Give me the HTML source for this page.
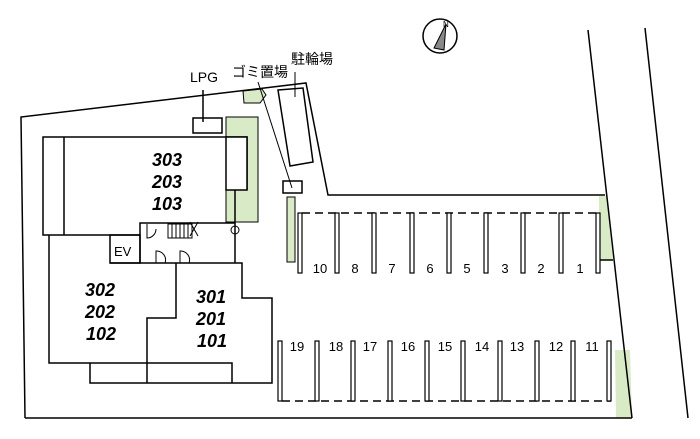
<!DOCTYPE html>
<html><head><meta charset="utf-8"><style>
html,body{margin:0;padding:0;background:#fff;}
svg{display:block}
text{font-family:"Liberation Sans","Noto Sans CJK JP",sans-serif;fill:#000}
.b{font-weight:bold;font-style:italic;font-size:18px}
.n{font-size:13px}
</style></head><body>
<svg width="700" height="439" viewBox="0 0 700 439" xmlns="http://www.w3.org/2000/svg">
<g fill="#d8ebc6" stroke="none">
<rect x="226" y="117" width="32" height="105"/>
<rect x="287" y="197" width="8" height="65"/>
<polygon points="599,196 606,196 613,260 599,260"/>
<polygon points="615,350 630,350 632,418 616,418"/>
<polygon points="243,91 262,89 266,95 260,103 244,103"/>
</g>
<g fill="none" stroke="#000" stroke-width="1.5">
<polyline points="25,418 632,418"/>
<polyline points="25,418 21,117 306,83 328,195 605,195"/>
<line x1="588" y1="30" x2="632" y2="418"/>
<line x1="645" y1="28" x2="688" y2="418"/>
<rect x="226" y="117" width="32" height="105" stroke-width="1"/>
<rect x="287" y="197" width="8" height="65" stroke-width="1"/>
<!-- building 303 -->
<polyline points="140,235 43,235 43,137 247,137 247,190"/>
<line x1="64" y1="137" x2="64" y2="235"/>
<rect x="226" y="137" width="21" height="53" fill="#fff"/>
<polyline points="140,263 140,223 235,223"/>
<line x1="235" y1="190" x2="235" y2="263"/>
<rect x="193" y="118" width="29" height="15"/>
<line x1="203" y1="90" x2="203" y2="122"/>
<!-- EV and 302 -->
<rect x="110" y="235" width="30" height="28"/>
<polyline points="49,235 49,363 232,363 232,383"/>
<polyline points="90,363 90,383 272,383 272,298 242,298 242,263 110,263"/>
<polyline points="176,263 176,318 147,318 147,383"/>
<!-- doors -->
<path d="M147,224 v14 a9,9 0 0 0 9,-9" stroke-width="1"/>
<path d="M156,263 v-12 a9,9 0 0 1 9,12" stroke-width="1"/>
<path d="M180,263 v-12 a9,9 0 0 1 9,12" stroke-width="1"/>
<g stroke-width="1"><rect x="168" y="224" width="24" height="14"/>
<line x1="172" y1="224" x2="172" y2="238"/><line x1="176" y1="224" x2="176" y2="238"/><line x1="180" y1="224" x2="180" y2="238"/><line x1="184" y1="224" x2="184" y2="238"/><line x1="188" y1="224" x2="188" y2="238"/>
<line x1="190" y1="222" x2="198" y2="236"/><line x1="198" y1="222" x2="190" y2="236"/>
<circle cx="235" cy="230" r="4"/></g>
<!-- top items -->
<polygon points="278,90 303,88 313,162 290,166"/>
<rect x="283" y="181" width="19" height="12"/>
<line x1="258" y1="82" x2="292" y2="188" stroke-width="1"/>
<line x1="295" y1="72" x2="295" y2="97" stroke-width="1"/>
<polygon points="243,91 262,89 266,95 260,103 244,103" stroke-width="1"/>
<line x1="600" y1="260" x2="613" y2="260"/>
<!-- parking -->
<line x1="302" y1="213" x2="598" y2="213" stroke-dasharray="8,5"/>
<line x1="282" y1="401" x2="611" y2="401" stroke-dasharray="8,5"/>
</g>
<g fill="#fff" stroke="#000" stroke-width="1.2">
<rect x="298" y="213" width="4" height="60"/><rect x="335" y="213" width="4" height="60"/><rect x="372" y="213" width="4" height="60"/><rect x="410" y="213" width="4" height="60"/><rect x="447" y="213" width="4" height="60"/><rect x="484" y="213" width="4" height="60"/><rect x="521" y="213" width="4" height="60"/><rect x="559" y="213" width="4" height="60"/><rect x="596" y="213" width="4" height="60"/>
<rect x="278" y="341" width="4" height="60"/><rect x="315" y="341" width="4" height="60"/><rect x="351" y="341" width="4" height="60"/><rect x="388" y="341" width="4" height="60"/><rect x="425" y="341" width="4" height="60"/><rect x="461" y="341" width="4" height="60"/><rect x="498" y="341" width="4" height="60"/><rect x="535" y="341" width="4" height="60"/><rect x="571" y="341" width="4" height="60"/><rect x="607" y="341" width="4" height="60"/>
</g>
<!-- compass -->
<circle cx="440" cy="36" r="17" fill="none" stroke="#000" stroke-width="1.5"/>
<polygon points="446,24 434,48 444,50" fill="#888" stroke="#000" stroke-width="1"/>
<text x="443" y="27" font-size="8">N</text>
<!-- labels -->
<text x="190" y="82" font-size="14">LPG</text>
<text x="232" y="77" font-size="14">ゴミ置場</text>
<text x="291" y="64" font-size="14">駐輪場</text>
<text x="114" y="256" font-size="13">EV</text>
<g class="b" text-anchor="middle">
<text x="167" y="166">303</text><text x="167" y="188">203</text><text x="167" y="210">103</text>
<text x="100" y="296">302</text><text x="100" y="318">202</text><text x="101" y="340">102</text>
<text x="211" y="303">301</text><text x="211" y="325">201</text><text x="212" y="347">101</text>
</g>
<g class="n" text-anchor="middle">
<text x="320" y="273">10</text><text x="355" y="273">8</text><text x="392" y="273">7</text><text x="430" y="273">6</text><text x="467" y="273">5</text><text x="505" y="273">3</text><text x="541" y="273">2</text><text x="580" y="273">1</text>
<text x="297" y="351">19</text><text x="336" y="351">18</text><text x="370" y="351">17</text><text x="408" y="351">16</text><text x="445" y="351">15</text><text x="482" y="351">14</text><text x="517" y="351">13</text><text x="556" y="351">12</text><text x="592" y="351">11</text>
</g>
</svg>
</body></html>
